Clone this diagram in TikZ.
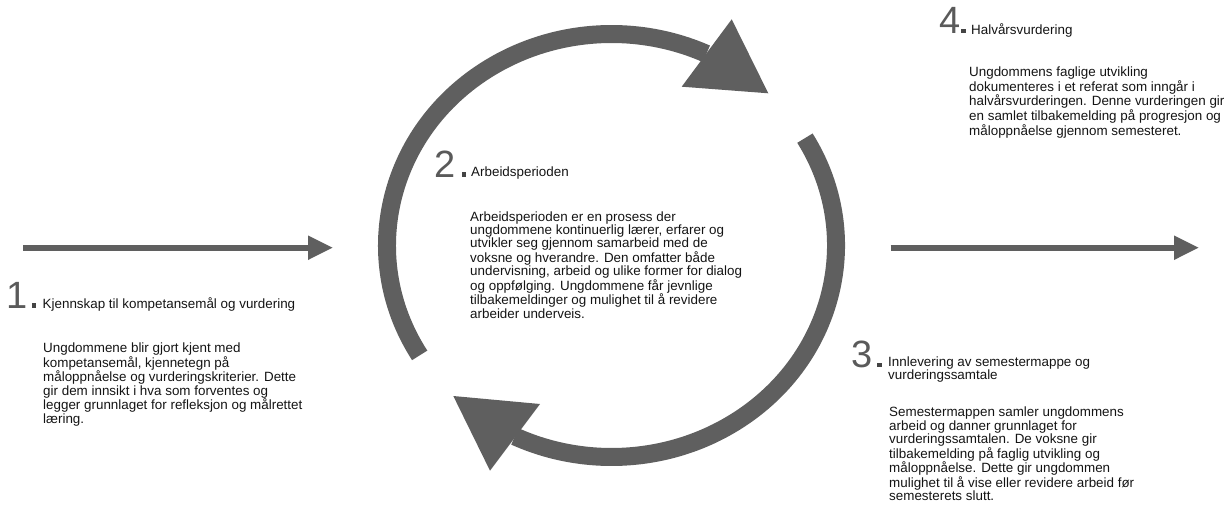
\documentclass[tikz,border=0pt]{standalone}
\usepackage{fontspec}
\setmainfont{Liberation Sans}
\usetikzlibrary{calc}
\definecolor{shapegray}{HTML}{5F5F5F}
\definecolor{numgray}{HTML}{5A5A5A}
\definecolor{dotgray}{HTML}{444444}
\definecolor{txt}{HTML}{141414}
\newcommand{\bodyblock}[1]{\parbox[t]{320pt}{\raggedright #1}}
\begin{document}
\begin{tikzpicture}[x=1pt,y=1pt,
  num/.style={inner sep=0, anchor=base west, text=numgray, font=\fontsize{38}{38}\selectfont},
  numdot/.style={inner sep=0, minimum size=4.4pt, fill=dotgray, anchor=south west},
  ttl/.style={inner sep=0, anchor=base west, text=txt, font=\fontsize{13.4}{13.4}\selectfont},
  body/.style={inner sep=0, anchor=base west, text=txt, font=\fontsize{13.4}{13.4}\selectfont},
  ring/.style={draw=shapegray, line width=18pt},
  head/.style={fill=shapegray},
  flow/.style={draw=shapegray, line width=6pt}]
\useasboundingbox (0,0) rectangle (1228,-505);

% cycle
\coordinate (c) at (611.5,-245.5);
\draw[ring] (c) ++(211.3:224.5 and 211.5) coordinate (a1s)
  arc[start angle=211.3, end angle=65, x radius=224.5, y radius=211.5] coordinate (a1e);
\draw[ring] (c) ++(30.5:224.5 and 211.5) coordinate (a2s)
  arc[start angle=30.5, end angle=-115.5, x radius=224.5, y radius=211.5] coordinate (a2e);
\coordinate (h1a) at (731.7,-19.3);
\coordinate (h1t) at (768.3,-93.3);
\coordinate (h1b) at (681.7,-86.7);
\fill[head] (h1a) -- (h1t) -- (h1b) -- cycle;
\coordinate (h2t) at (453.3,-396);
\coordinate (h2a) at (540,-404);
\coordinate (h2b) at (490,-470.7);
\fill[head] (h2t) -- (h2a) -- (h2b) -- cycle;

% straight arrows
\coordinate (l0) at (23,-247.7);
\coordinate (l1) at (308,-247.7);
\coordinate (lt) at (332.5,-247.7);
\draw[flow] (l0) -- (l1);
\fill[head] ($(l1)+(0,12.3)$) -- (lt) -- ($(l1)+(0,-12.3)$) -- cycle;
\coordinate (r0) at (890.7,-247.7);
\coordinate (r1) at (1174,-247.7);
\coordinate (rt) at (1198.5,-247.7);
\draw[flow] (r0) -- (r1);
\fill[head] ($(r1)+(0,12.3)$) -- (rt) -- ($(r1)+(0,-12.3)$) -- cycle;

% step 1
\node[num] (n1) at (5.9,-308.3) {1};
\node[numdot] (d1) at (31.7,-308) {};
\node[ttl] (t1) at (42.5,-308.5) {Kjennskap til kompetansemål og vurdering};
\node[body] (b1) at (43,-352.7) {\bodyblock{Ungdommene blir gjort kjent med\\
kompetansemål, kjennetegn på\\
måloppnåelse og vurderingskriterier. Dette\\
gir dem innsikt i hva som forventes og\\
legger grunnlaget for refleksjon og målrettet\\
læring.}};

% step 2
\node[num] (n2) at (434,-177.5) {2};
\node[numdot] (d2) at (461.5,-177) {};
\node[ttl] (t2) at (471,-177) {Arbeidsperioden};
\node[body] (b2) at (470,-221) {\bodyblock{Arbeidsperioden er en prosess der\\
ungdommene kontinuerlig lærer, erfarer og\\
utvikler seg gjennom samarbeid med de\\
voksne og hverandre. Den omfatter både\\
undervisning, arbeid og ulike former for dialog\\
og oppfølging. Ungdommene får jevnlige\\
tilbakemeldinger og mulighet til å revidere\\
arbeider underveis.}};

% step 3
\node[num] (n3) at (851.4,-367.5) {3};
\node[numdot] (d3) at (877,-367.5) {};
\node[ttl] (t3) at (888,-366.5) {\bodyblock{Innlevering av semestermappe og\\
vurderingssamtale}};
\node[body] (b3) at (889,-416.7) {\bodyblock{Semestermappen samler ungdommens\\
arbeid og danner grunnlaget for\\
vurderingssamtalen. De voksne gir\\
tilbakemelding på faglig utvikling og\\
måloppnåelse. Dette gir ungdommen\\
mulighet til å vise eller revidere arbeid før\\
semesterets slutt.}};

% step 4
\node[num] (n4) at (939,-33.5) {4};
\node[numdot] (d4) at (961,-33.5) {};
\node[ttl] (t4) at (971,-35) {Halvårsvurdering};
\node[body] (b4) at (969,-76.7) {\bodyblock{Ungdommens faglige utvikling\\
dokumenteres i et referat som inngår i\\
halvårsvurderingen. Denne vurderingen gir\\
en samlet tilbakemelding på progresjon og\\
måloppnåelse gjennom semesteret.}};
\end{tikzpicture}
\end{document}
